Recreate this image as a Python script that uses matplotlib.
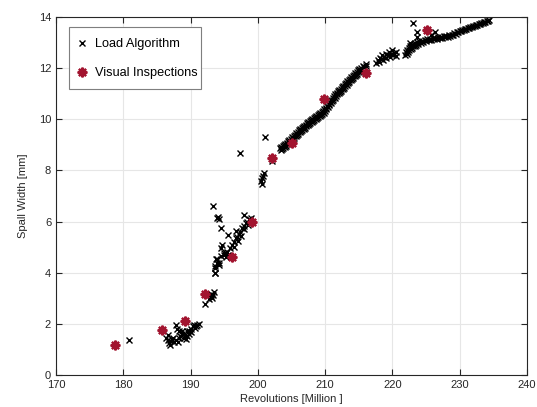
import matplotlib
matplotlib.use('Agg')
import matplotlib.pyplot as plt
from matplotlib.patches import Rectangle

plt.rcParams['font.family'] = ['Liberation Sans', 'DejaVu Sans']

# visual inspections (red asterisks)
insp_x = [178.8, 185.7, 189.1, 192.1, 196.1, 199.1, 202.1, 205.0, 209.9, 216.0, 225.2]
insp_y = [1.16, 1.77, 2.10, 3.15, 4.63, 6.00, 8.50, 9.08, 10.80, 11.80, 13.50]

# load algorithm estimates, read off segment by segment
seg_a_x = [180.8, 186.3, 186.6, 186.8, 186.9, 187.1, 187.3, 187.4, 186.6, 187.6, 187.8, 188.0,
           188.3, 188.3, 188.5, 188.7, 188.8, 189.0, 189.3, 189.4, 189.5, 189.7, 189.8, 190.0,
           190.1, 190.3, 190.5, 190.6, 190.8, 191.0, 191.3, 187.9, 188.1, 189.1]
seg_a_y = [1.35, 1.46, 1.35, 1.25, 1.16, 1.33, 1.42, 1.46, 1.55, 1.30, 1.94, 1.81,
           1.46, 1.74, 1.51, 1.74, 1.61, 1.46, 1.42, 1.74, 1.51, 1.60, 1.74, 1.81,
           1.70, 1.90, 1.94, 1.85, 1.90, 1.97, 2.00, 1.38, 1.30, 1.55]

seg_b_x = [192.2, 192.8, 193.0, 193.1, 193.2, 193.5, 193.3]
seg_b_y = [2.77, 2.97, 3.10, 3.16, 3.03, 3.23, 3.12]

seg_c_x = [193.6, 193.6, 193.7, 193.7, 193.8, 193.9, 194.0, 194.2, 194.2, 194.5, 194.5, 194.6,
           195.0, 195.0, 195.2, 195.2, 195.4, 195.6, 195.9, 196.2, 196.4, 196.5, 196.7, 196.8,
           196.9, 197.0, 197.2, 197.4, 197.5, 197.7, 197.9, 198.0, 198.2, 198.4, 198.5, 198.7,
           198.9, 199.0,
           193.4, 194.0, 194.1, 194.2, 194.5, 195.6, 198.0, 197.4, 201.0,
           200.5, 200.6, 200.6, 200.9, 200.7, 202.1]
seg_c_y = [3.97, 4.00, 4.20, 4.26, 4.52, 4.37, 4.52, 4.30, 4.39, 4.65, 4.98, 5.08,
           4.71, 4.76, 4.63, 4.77, 4.82, 4.70, 4.95, 5.08, 5.22, 5.00, 5.35, 5.63,
           5.41, 5.25, 5.50, 5.60, 5.45, 5.74, 5.84, 5.70, 5.93, 6.00, 5.88, 6.09,
           6.05, 6.15,
           6.59, 6.13, 6.18, 6.10, 5.76, 5.48, 6.24, 8.68, 9.31,
           7.57, 7.46, 7.70, 7.90, 7.80, 8.38]

seg_e_x = [203.3, 203.4, 203.5, 203.6, 203.7, 203.8, 203.9, 204.0, 204.1, 204.2, 204.3, 204.4,
           204.5, 204.6, 204.7, 204.8, 204.9, 205.0, 205.1, 205.2, 205.3, 205.4, 205.5, 205.6,
           205.7, 205.8, 205.9, 206.0, 206.1, 206.2, 206.3, 206.4, 206.5, 206.6, 206.7, 206.8,
           206.9, 207.0, 207.1, 207.2, 207.3, 207.4, 207.5, 207.6, 207.7, 207.8, 207.9, 208.0,
           208.1, 208.2, 208.3, 208.4, 208.5, 208.6, 208.7, 208.8, 208.9, 209.0, 209.1, 209.2,
           209.3, 209.4, 209.5, 209.6, 209.7, 209.8, 209.9, 210.0, 210.1, 210.2, 210.3, 210.4,
           210.5, 210.6, 210.7, 210.8, 210.9, 211.0, 211.1, 211.2, 211.3, 211.4, 211.5, 211.6,
           211.7, 211.8, 211.9, 212.0, 212.1, 212.2, 212.3, 212.4, 212.5, 212.6, 212.7, 212.8,
           212.9, 213.0, 213.1, 213.2, 213.3, 213.4, 213.5, 213.6, 213.7, 213.8, 213.9, 214.0,
           214.1, 214.2, 214.3, 214.4, 214.5, 214.6, 214.7, 214.8, 214.9, 215.0, 215.1, 215.2,
           215.3, 215.4, 215.6, 215.8, 216.0, 216.1]
seg_e_y = [8.86, 8.78, 8.90, 8.83, 8.95, 8.87, 8.99, 8.92, 9.04, 8.97, 9.09, 9.02,
           9.14, 9.07, 9.19, 9.12, 9.24, 9.17, 9.29, 9.22, 9.35, 9.27, 9.40, 9.33,
           9.46, 9.38, 9.51, 9.44, 9.57, 9.49, 9.62, 9.54, 9.66, 9.59, 9.71, 9.63,
           9.75, 9.67, 9.79, 9.72, 9.84, 9.76, 9.88, 9.80, 9.92, 9.84, 9.96, 9.88,
           10.00, 9.92, 10.04, 9.96, 10.08, 10.00, 10.12, 10.04, 10.16, 10.08, 10.20, 10.12,
           10.24, 10.17, 10.29, 10.21, 10.33, 10.26, 10.39, 10.33, 10.46, 10.40, 10.53, 10.47,
           10.60, 10.54, 10.68, 10.62, 10.76, 10.70, 10.83, 10.77, 10.91, 10.85, 10.99, 10.92,
           11.04, 10.97, 11.09, 11.02, 11.15, 11.07, 11.20, 11.12, 11.25, 11.18, 11.31, 11.24,
           11.37, 11.29, 11.42, 11.35, 11.48, 11.41, 11.54, 11.46, 11.59, 11.52, 11.65, 11.57,
           11.70, 11.63, 11.75, 11.68, 11.81, 11.73, 11.86, 11.78, 11.91, 11.84, 11.96, 11.89,
           12.01, 11.94, 12.08, 12.03, 12.17, 12.07]

seg_f_x = [217.6, 217.8, 218.0, 218.1, 218.3, 218.5, 218.6, 218.8, 219.0, 219.1, 219.3, 219.5,
           219.6, 219.8, 220.0, 220.1, 220.3, 220.5, 220.6]
seg_f_y = [12.22, 12.30, 12.25, 12.40, 12.35, 12.50, 12.30, 12.45, 12.55, 12.40, 12.50, 12.62,
           12.45, 12.55, 12.70, 12.50, 12.60, 12.48, 12.65]

seg_g_x = [221.9, 222.0, 222.1, 222.2, 222.3, 222.4, 222.5, 222.6, 222.6, 222.7, 222.8, 222.9,
           223.0, 223.1, 223.2, 223.3, 223.4, 223.5, 223.6, 223.7, 223.1, 223.7, 223.8, 224.0,
           224.2, 224.4, 224.6, 224.8, 225.0, 225.2, 225.4, 225.6, 225.8, 225.8, 226.0, 226.3,
           226.2, 226.4, 226.6, 226.8, 227.0, 227.2, 227.4, 227.6, 227.8, 228.0, 228.2, 228.4,
           228.6, 228.8, 229.0, 229.2, 229.4, 229.6, 229.8, 230.0, 230.2, 230.4, 230.6, 230.8,
           231.0, 231.2, 231.4, 231.6, 231.8, 232.0, 232.2, 232.4, 232.6, 232.8, 233.0, 233.2,
           233.4, 233.6, 233.8, 234.0, 234.2, 234.4]
seg_g_y = [12.50, 12.62, 12.55, 12.70, 12.62, 12.78, 12.70, 12.85, 12.98, 12.76, 12.88, 12.80,
           12.92, 12.85, 12.96, 12.88, 13.00, 12.92, 13.20, 13.42, 13.78, 13.02, 12.95, 13.05,
           12.98, 13.06, 13.02, 13.10, 13.06, 13.13, 13.09, 13.15, 13.30, 13.12, 13.17, 13.43,
           13.14, 13.19, 13.15, 13.21, 13.17, 13.22, 13.19, 13.24, 13.21, 13.26, 13.23, 13.28,
           13.26, 13.31, 13.30, 13.36, 13.35, 13.41, 13.40, 13.46, 13.45, 13.50, 13.49, 13.54,
           13.53, 13.58, 13.57, 13.62, 13.61, 13.66, 13.65, 13.70, 13.69, 13.74, 13.73, 13.78,
           13.77, 13.82, 13.81, 13.86, 13.85, 13.90]

load_x = seg_a_x + seg_b_x + seg_c_x + seg_e_x + seg_f_x + seg_g_x
load_y = seg_a_y + seg_b_y + seg_c_y + seg_e_y + seg_f_y + seg_g_y

x_ticks = [170, 180, 190, 200, 210, 220, 230, 240]
y_ticks = [0, 2, 4, 6, 8, 10, 12, 14]

fig = plt.figure(figsize=(5.37, 4.07), dpi=100)
ax = fig.add_axes([56/537, 32/407, 471/537, 358/407])

ax.plot(load_x, load_y, 'x', color='black', markersize=4.5, markeredgewidth=1.0,
        linestyle='none', label='Load Algorithm')
ax.plot(insp_x, insp_y, linestyle='none', marker=(8, 2, 0), color='#A2142F',
        markersize=7, markeredgewidth=1.6, label='Visual Inspections')

ax.set_xlim(170, 240)
ax.set_ylim(0, 14)
ax.set_xticks(x_ticks)
ax.set_yticks(y_ticks)
ax.grid(True, color='#e6e6e6', linewidth=0.8)
ax.set_axisbelow(True)
ax.tick_params(direction='in', top=True, right=True, length=4, width=0.8,
               colors='#262626', labelsize=8)
for s in ax.spines.values():
    s.set_color('#262626')
    s.set_linewidth(0.8)

ax.set_xlabel('Revolutions [Million ]', fontsize=8, color='#262626', labelpad=3)
ax.set_ylabel('Spall Width [mm]', fontsize=8, color='#262626', labelpad=8)

# legend box drawn by hand (matlab style: small right margin)
box = Rectangle((0.028, 0.798), 0.279, 0.175, transform=ax.transAxes,
                facecolor='white', edgecolor='#7f7f7f', linewidth=0.8, zorder=4.9)
ax.add_patch(box)
leg = ax.legend(loc='upper left', bbox_to_anchor=(0.0425, 0.941), borderaxespad=0,
                fontsize=9.2, frameon=False, labelspacing=1.35, borderpad=0,
                handlelength=1.0, handletextpad=0.47)

fig.savefig('out.png', dpi=100)
